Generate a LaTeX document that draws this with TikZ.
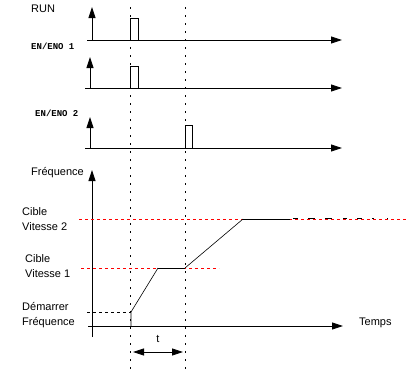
\documentclass[tikz,border=0pt]{standalone}
\usepackage{fontspec}
\setmainfont{Liberation Sans}
\newfontfamily\enfont{Liberation Mono}
\usetikzlibrary{arrows.meta}
\begin{document}
\begin{tikzpicture}[x=1pt,y=-1pt,
  lbl/.style={inner sep=0pt, font=\fontsize{11}{15}\selectfont, align=left},
  enlbl/.style={inner sep=0pt, font=\enfont\bfseries\fontsize{9}{10}\selectfont},
  axis/.style={line width=0.9pt, -{Triangle[length=11pt,width=7pt]}},
  sig/.style={line width=0.8pt},
  curve/.style={line width=0.6pt},
  vdot/.style={line width=0.8pt, dash pattern=on 2pt off 6pt},
  reddot/.style={red, line width=1pt, dash pattern=on 3pt off 3pt},
  blkdash/.style={line width=0.7pt, dash pattern=on 3pt off 3pt},
  tarrow/.style={line width=0.8pt, {Triangle[length=11pt,width=7pt]}-{Triangle[length=11pt,width=7pt]}}]
\useasboundingbox (0,0) rectangle (408,380);

% labels
\node[lbl, anchor=west] (run) at (31,9) {RUN};
\node[enlbl, anchor=west] (en1) at (31,46) {EN/ENO 1};
\node[enlbl, anchor=west] (en2) at (35,113) {EN/ENO 2};
\node[lbl, anchor=east] (freq) at (84,173) {Fréquence};
\node[lbl, anchor=west] (c2) at (22,219.5) {Cible\\Vitesse 2};
\node[lbl, anchor=west] (c1) at (25,266.5) {Cible\\Vitesse 1};
\node[lbl, anchor=west] (dem) at (22,315.5) {Démarrer\\Fréquence};
\node[lbl, anchor=west] (temps) at (359,323) {Temps};
\node[lbl] (tlab) at (158,339) {t};

% dotted time markers
\coordinate (d1t) at (130,7); \coordinate (d1b) at (130,372);
\coordinate (d2t) at (185,7); \coordinate (d2b) at (185,372);
\draw[vdot] (d1t) -- (d1b);
\draw[vdot] (d2t) -- (d2b);

% RUN axis
\coordinate (r0) at (92,40); \coordinate (ry) at (92,7);
\coordinate (rl) at (87,40); \coordinate (rx) at (342,40);
\draw[axis] (r0) -- (ry);
\draw[axis] (rl) -- (rx);
\draw[sig] (130,40) -- (130,18) -- (138,18) -- (138,40);

% EN/ENO 1 axis
\coordinate (a0) at (90,88); \coordinate (ay) at (90,57);
\coordinate (al) at (85,88); \coordinate (ax) at (342,88);
\draw[axis] (a0) -- (ay);
\draw[axis] (al) -- (ax);
\draw[sig] (130,88) -- (130,66) -- (138,66) -- (138,88);

% EN/ENO 2 axis
\coordinate (b0) at (90,148); \coordinate (by) at (90,117);
\coordinate (bl) at (85,148); \coordinate (bx) at (342,148);
\draw[axis] (b0) -- (by);
\draw[axis] (bl) -- (bx);
\draw[sig] (185,148) -- (185,125) -- (192,125) -- (192,148);

% frequency axes
\coordinate (f0) at (92,337); \coordinate (fy) at (92,170);
\coordinate (fl) at (88,326); \coordinate (fx) at (343,326);
\draw[axis] (f0) -- (fy);
\draw[axis] (fl) -- (fx);

% reference levels
\coordinate (v2a) at (79,219.5); \coordinate (v2b) at (407,219.5);
\coordinate (v1a) at (81,268); \coordinate (v1b) at (219,268);
\coordinate (sa) at (87,312); \coordinate (sb) at (131,312);
\draw[reddot] (v2a) -- (v2b);
\draw[reddot] (v1a) -- (v1b);
\draw[blkdash] (sa) -- (sb);

% frequency curve
\coordinate (p0) at (131,326); \coordinate (p1) at (131,312);
\coordinate (p2) at (158,268); \coordinate (p3) at (185,268);
\coordinate (p4) at (243,219); \coordinate (p5) at (290,219);
\draw[curve] (p0) -- (p1) -- (p2);
\draw[line width=0.8pt] (p2) -- (p3);
\draw[curve] (p3) -- (p4);
\draw[line width=0.8pt] (p4) -- (p5);
\foreach \a/\b in {293/298,308/315,325/332,343/347,357/362,372/374,387/388}
  \draw[line width=0.8pt] (\a,218.5) -- (\b,218.5);

% interval t
\coordinate (ta) at (133,352); \coordinate (tb) at (183,352);
\draw[tarrow] (ta) -- (tb);
\end{tikzpicture}
\end{document}
